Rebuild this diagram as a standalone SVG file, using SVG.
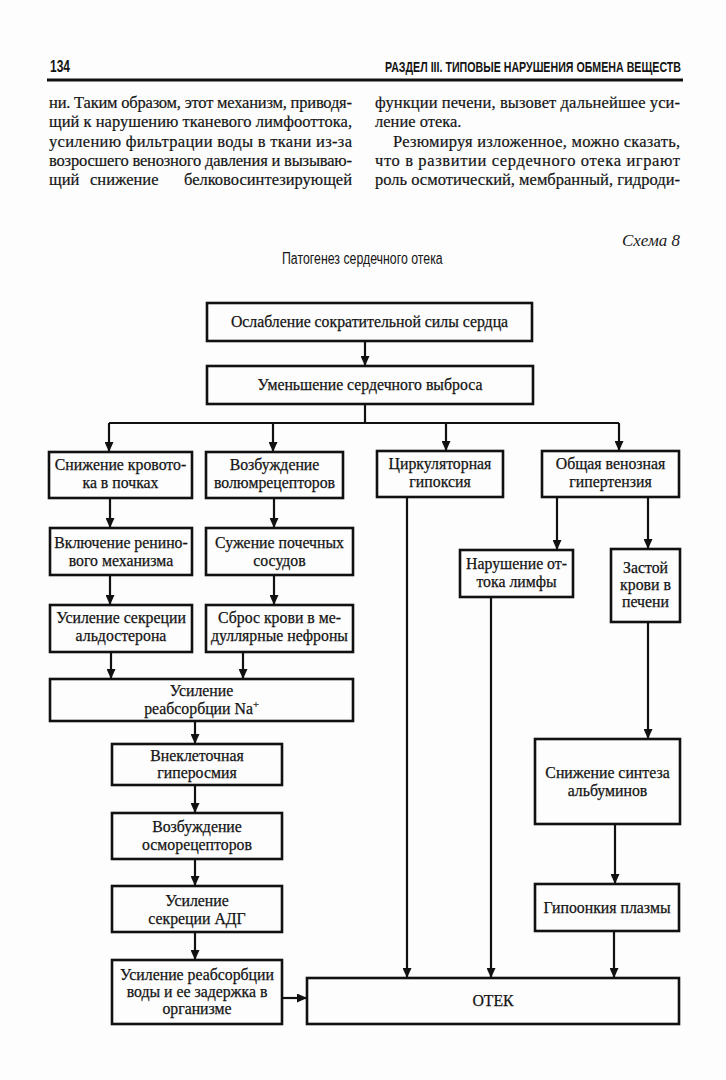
<svg xmlns="http://www.w3.org/2000/svg" width="726" height="1080" viewBox="0 0 726 1080">
<style>
.bx{fill:none;stroke:#111;stroke-width:2.6}
.t{font-family:"Liberation Serif","Times New Roman",serif;font-size:15.8px;text-anchor:middle;fill:#141414;stroke:#141414;stroke-width:0.25}
.p{font-family:"Liberation Serif","Times New Roman",serif;font-size:16.5px;fill:#141414;stroke:#141414;stroke-width:0.2}
.h{font-family:"Liberation Sans",Arial,sans-serif;fill:#141414}
.c{stroke:#111;stroke-width:2.2;fill:none}
.a{marker-end:url(#ah)}
</style>
<defs>
<marker id="ah" markerUnits="userSpaceOnUse" markerWidth="10" markerHeight="9" refX="10" refY="4.5" orient="auto">
<path d="M0,0 L10,4.5 L0,9 z" fill="#111"/>
</marker>
</defs>
<rect width="726" height="1080" fill="#fdfdfd"/>
<g id="page-header">
<text class="h" x="50" y="72" font-size="16" font-weight="bold" textLength="20" lengthAdjust="spacingAndGlyphs">134</text>
<text class="h" transform="translate(385,72) scale(0.8,1)" x="0" y="0" font-size="15" font-weight="bold" textLength="370" lengthAdjust="spacingAndGlyphs">РАЗДЕЛ III. ТИПОВЫЕ НАРУШЕНИЯ ОБМЕНА ВЕЩЕСТВ</text>
<line x1="47" y1="80" x2="683" y2="80" stroke="#111" stroke-width="2.8"/>
</g>
<g id="body-text">
<text class="p" x="49" y="108" textLength="303" lengthAdjust="spacing">ни. Таким образом, этот механизм, приводя-</text>
<text class="p" x="49" y="127" textLength="303" lengthAdjust="spacing">щий к нарушению тканевого лимфооттока,</text>
<text class="p" x="49" y="147" textLength="303" lengthAdjust="spacing">усилению фильтрации воды в ткани из-за</text>
<text class="p" x="49" y="166" textLength="303" lengthAdjust="spacing">возросшего венозного давления и вызываю-</text>
<text class="p" x="49" y="185">щий</text>
<text class="p" x="90" y="185">снижение</text>
<text class="p" x="352" y="185" text-anchor="end">белковосинтезирующей</text>
<text class="p" x="375" y="108" textLength="305" lengthAdjust="spacing">функции печени, вызовет дальнейшее уси-</text>
<text class="p" x="375" y="127">ление отека.</text>
<text class="p" x="393" y="147" textLength="287" lengthAdjust="spacing">Резюмируя изложенное, можно сказать,</text>
<text class="p" x="375" y="166" textLength="305" lengthAdjust="spacing">что в развитии сердечного отека играют</text>
<text class="p" x="375" y="185" textLength="305" lengthAdjust="spacing">роль осмотический, мембранный, гидроди-</text>
</g>
<g id="caption">
<text x="622" y="246" font-family="'Liberation Serif',serif" font-style="italic" font-size="16.5" fill="#1a1a1a" textLength="58" lengthAdjust="spacingAndGlyphs">Схема 8</text>
<text class="h" transform="translate(282,264) scale(0.82,1)" x="0" y="0" font-size="16" textLength="196" lengthAdjust="spacingAndGlyphs">Патогенез сердечного отека</text>
</g>
<g id="connectors">
<line class="c a" x1="365" y1="341" x2="365" y2="366"/>
<polyline class="c" points="365,404 365,423"/>
<line class="c" x1="109" y1="423" x2="619" y2="423"/>
<line class="c a" x1="109" y1="423" x2="109" y2="452"/>
<line class="c a" x1="273" y1="423" x2="273" y2="452"/>
<line class="c a" x1="446" y1="423" x2="446" y2="451"/>
<line class="c a" x1="619" y1="423" x2="619" y2="451"/>
<line class="c a" x1="110" y1="498" x2="110" y2="528"/>
<line class="c a" x1="274" y1="498" x2="274" y2="528"/>
<line class="c a" x1="110" y1="575" x2="110" y2="605"/>
<line class="c a" x1="274" y1="575" x2="274" y2="605"/>
<line class="c a" x1="111" y1="652" x2="111" y2="679"/>
<line class="c a" x1="243" y1="652" x2="243" y2="679"/>
<line class="c a" x1="195" y1="721" x2="195" y2="744"/>
<line class="c a" x1="195" y1="785" x2="195" y2="813"/>
<line class="c a" x1="195" y1="859" x2="195" y2="886"/>
<line class="c a" x1="195" y1="932" x2="195" y2="960"/>
<line class="c a" x1="282" y1="998" x2="307" y2="998"/>
<line class="c a" x1="407" y1="497" x2="407" y2="978"/>
<line class="c a" x1="557" y1="497" x2="557" y2="550"/>
<line class="c a" x1="648" y1="497" x2="648" y2="549"/>
<line class="c a" x1="491" y1="597" x2="491" y2="978"/>
<line class="c a" x1="648" y1="622" x2="648" y2="739"/>
<line class="c a" x1="615" y1="824" x2="615" y2="884"/>
<line class="c a" x1="614" y1="931" x2="614" y2="978"/>
</g>
<g id="n1"><rect class="bx" x="207" y="303" width="325" height="38"/><text class="t" x="369.5" y="327">Ослабление сократительной силы сердца</text></g>
<g id="n2"><rect class="bx" x="207" y="366" width="326" height="38"/><text class="t" x="370" y="390">Уменьшение сердечного выброса</text></g>
<g id="n3a"><rect class="bx" x="49" y="452" width="143" height="46"/><text class="t" x="120.5" y="470">Снижение кровото-</text><text class="t" x="120.5" y="488">ка в почках</text></g>
<g id="n3b"><rect class="bx" x="206" y="452" width="137" height="46"/><text class="t" x="274.5" y="470">Возбуждение</text><text class="t" x="274.5" y="488">волюмрецепторов</text></g>
<g id="n3c"><rect class="bx" x="377" y="451" width="126" height="46"/><text class="t" x="440" y="469">Циркуляторная</text><text class="t" x="440" y="487">гипоксия</text></g>
<g id="n3d"><rect class="bx" x="542" y="451" width="137" height="46"/><text class="t" x="610.5" y="469">Общая венозная</text><text class="t" x="610.5" y="487">гипертензия</text></g>
<g id="n4a"><rect class="bx" x="50" y="528" width="142" height="47"/><text class="t" x="121" y="548">Включение ренино-</text><text class="t" x="121" y="566">вого механизма</text></g>
<g id="n4b"><rect class="bx" x="206" y="528" width="147" height="47"/><text class="t" x="279.5" y="548">Сужение почечных</text><text class="t" x="279.5" y="566">сосудов</text></g>
<g id="n5a"><rect class="bx" x="50" y="605" width="142" height="47"/><text class="t" x="121" y="623">Усиление секреции</text><text class="t" x="121" y="641">альдостерона</text></g>
<g id="n5b"><rect class="bx" x="206" y="605" width="147" height="47"/><text class="t" x="279.5" y="623">Сброс крови в ме-</text><text class="t" x="279.5" y="641">дуллярные нефроны</text></g>
<g id="n6"><rect class="bx" x="50" y="679" width="303" height="42"/><text class="t" x="201.5" y="696">Усиление</text><text class="t" x="201.5" y="714">реабсорбции Na<tspan font-size="10.5" dy="-6">+</tspan></text></g>
<g id="n7"><rect class="bx" x="112" y="744" width="170" height="41"/><text class="t" x="197" y="761">Внеклеточная</text><text class="t" x="197" y="778">гиперосмия</text></g>
<g id="n8"><rect class="bx" x="112" y="813" width="170" height="46"/><text class="t" x="197" y="832">Возбуждение</text><text class="t" x="197" y="850">осморецепторов</text></g>
<g id="n9"><rect class="bx" x="112" y="886" width="170" height="46"/><text class="t" x="197" y="906">Усиление</text><text class="t" x="197" y="924">секреции АДГ</text></g>
<g id="n10"><rect class="bx" x="112" y="960" width="170" height="64"/><text class="t" x="197" y="980">Усиление реабсорбции</text><text class="t" x="197" y="997">воды и ее задержка в</text><text class="t" x="197" y="1014">организме</text></g>
<g id="n11"><rect class="bx" x="307" y="978" width="372" height="46"/><text class="t" x="493" y="1006">ОТЕК</text></g>
<g id="n12"><rect class="bx" x="460" y="550" width="113" height="47"/><text class="t" x="516.5" y="569">Нарушение от-</text><text class="t" x="516.5" y="587">тока лимфы</text></g>
<g id="n13"><rect class="bx" x="611" y="549" width="69" height="73"/><text class="t" x="645.5" y="573">Застой</text><text class="t" x="645.5" y="590">крови в</text><text class="t" x="645.5" y="607">печени</text></g>
<g id="n14"><rect class="bx" x="535" y="739" width="145" height="85"/><text class="t" x="607.5" y="778">Снижение синтеза</text><text class="t" x="607.5" y="796">альбуминов</text></g>
<g id="n15"><rect class="bx" x="535" y="884" width="144" height="47"/><text class="t" x="607" y="913">Гипоонкия плазмы</text></g>
</svg>
